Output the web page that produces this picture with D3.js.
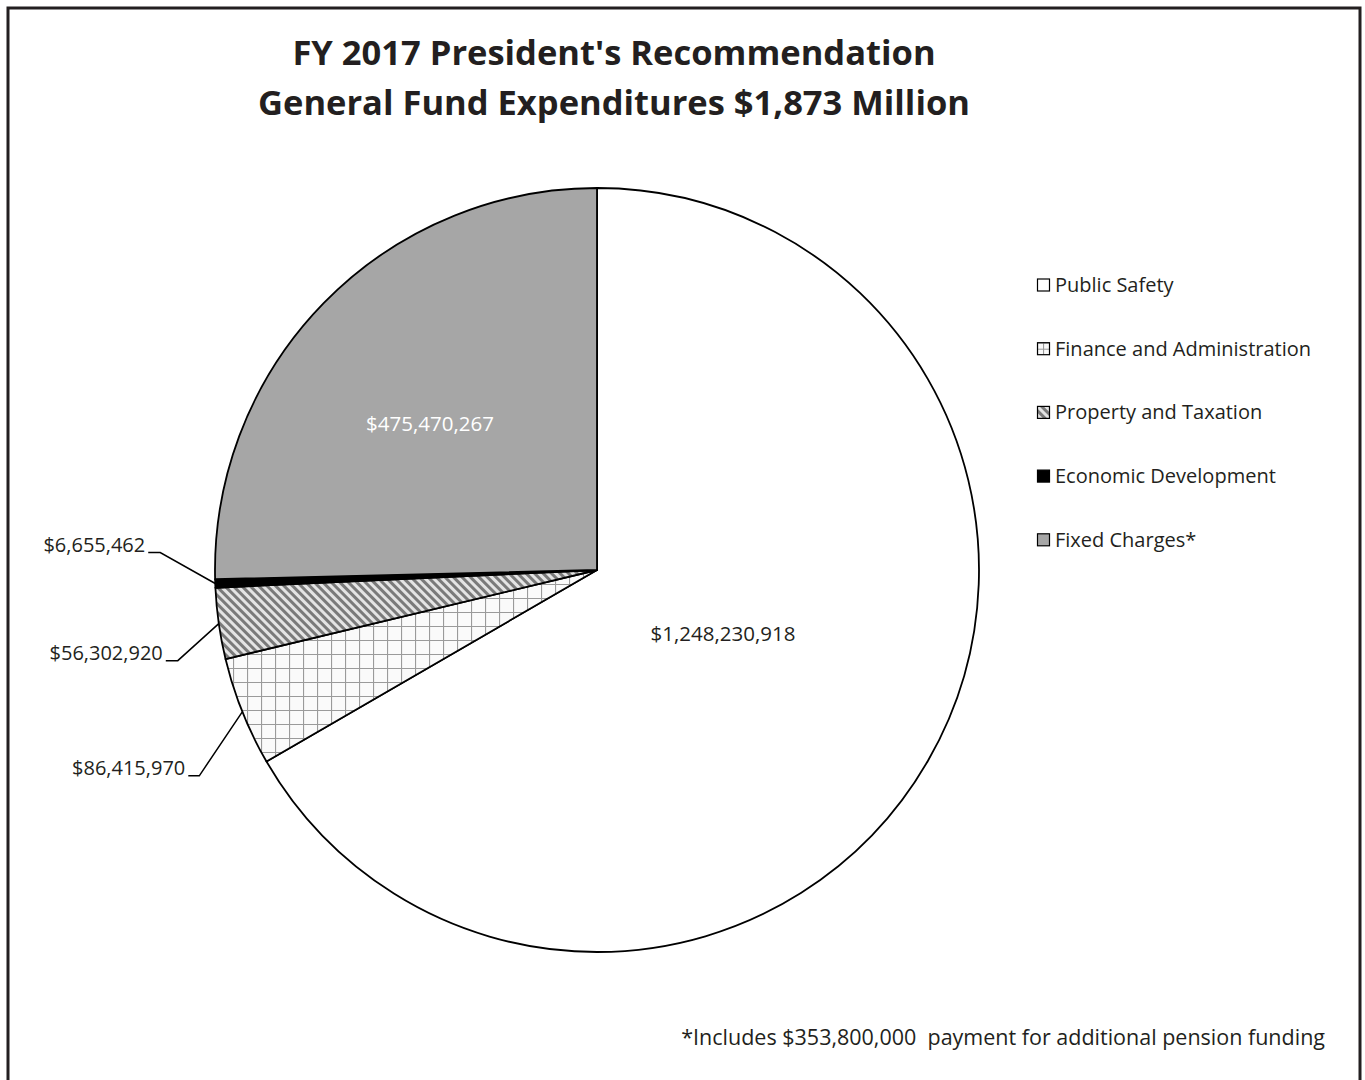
<!DOCTYPE html>
<html lang="en">
<head>
  <meta charset="UTF-8">
  <title>FY 2017 General Fund Expenditures</title>
  <style>
    body { margin: 0; padding: 0; background: #fff; }
    svg { display: block; }
    text { font-family: "Open Sans", Lato, sans-serif; fill: #231f20; }
  </style>
  <script src="https://cdn.jsdelivr.net/npm/d3@7"></script>
</head>
<body>
  <div id="chart"></div>
  <script>
    // data
    const categories = ["Public Safety", "Finance and Administration", "Property and Taxation", "Economic Development", "Fixed Charges*"];
    const values = [1248230918, 86415970, 56302920, 6655462, 475470267];
    const titleLines = ["FY 2017 President's Recommendation", "General Fund Expenditures $1,873 Million"];
    const footnote = "*Includes $353,800,000  payment for additional pension funding";

    const width = 1365;
    const height = 1080;
    const cx = 597, cy = 570, radius = 382;

    const svg = d3.select("#chart")
      .append("svg")
      .attr("width", width)
      .attr("height", height);

    // patterns for the slices
    const defs = svg.append("defs");

    function gridPattern(id, size) {
      const p = defs.append("pattern")
        .attr("id", id)
        .attr("patternUnits", "userSpaceOnUse")
        .attr("width", size).attr("height", size);
      p.append("rect").attr("width", size).attr("height", size).attr("fill", "#fafafa");
      p.append("path").attr("d", `M0,0.5H${size}M0.5,0V${size}`)
        .attr("stroke", "#9a9a9a").attr("stroke-width", 1.2);
    }
    gridPattern("grid", 14);
    gridPattern("gridSmall", 6);

    const stripes = defs.append("pattern")
      .attr("id", "stripes")
      .attr("patternUnits", "userSpaceOnUse")
      .attr("width", 6).attr("height", 6)
      .attr("patternTransform", "rotate(-45)");
    stripes.append("rect").attr("width", 6).attr("height", 6).attr("fill", "#e4e4e4");
    stripes.append("rect").attr("width", 3).attr("height", 6).attr("fill", "#7a7a7a");

    const fills = ["#ffffff", "url(#grid)", "url(#stripes)", "#000000", "#a6a6a6"];
    const legendFills = ["#ffffff", "url(#gridSmall)", "url(#stripes)", "#000000", "#a6a6a6"];

    // border
    svg.append("rect")
      .attr("x", 8).attr("y", 8)
      .attr("width", 1352).attr("height", 1100)
      .attr("fill", "none")
      .attr("stroke", "#231f20")
      .attr("stroke-width", 3);

    // title
    svg.append("text")
      .attr("text-anchor", "middle")
      .attr("font-size", 34.5)
      .attr("font-weight", "bold")
      .selectAll("tspan")
      .data(titleLines)
      .enter()
      .append("tspan")
      .attr("x", 614)
      .attr("y", (d, i) => 65 + i * 50)
      .text(d => d);

    const pie = d3.pie().sort(null).value(d => d)(values);
    const arc = d3.arc().innerRadius(0).outerRadius(radius);

    const g = svg.append("g").attr("transform", `translate(${cx},${cy})`);

    g.selectAll("path")
      .data(pie)
      .enter()
      .append("path")
      .attr("d", arc)
      .attr("fill", (d, i) => fills[i])
      .attr("stroke", "#000")
      .attr("stroke-width", 1.8)
      .attr("stroke-linejoin", "round");

    const fmt = d3.format("$,");

    // labels inside the two big slices
    const inside = [
      { i: 0, x: 126, y: 64, color: "#231f20" },
      { i: 4, x: -167, y: -146, color: "#ffffff" }
    ];
    g.selectAll("text.inside")
      .data(inside)
      .enter()
      .append("text")
      .attr("class", "inside")
      .attr("x", d => d.x)
      .attr("y", d => d.y)
      .attr("dy", "0.35em")
      .attr("text-anchor", "middle")
      .attr("font-size", 20.5)
      .style("fill", d => d.color)
      .text(d => fmt(values[d.i]));

    // outside labels with leader lines; elbow offset from the arc point
    const outside = [
      { i: 3, dx: -55, dy: -31, run: 12 },
      { i: 2, dx: -41, dy: 37, run: 12 },
      { i: 1, dx: -43, dy: 64, run: 11 }
    ];
    outside.forEach(o => {
      const a = (pie[o.i].startAngle + pie[o.i].endAngle) / 2;
      const px = radius * Math.sin(a);
      const py = -radius * Math.cos(a);
      const ex = px + o.dx, ey = py + o.dy;
      g.append("path")
        .attr("d", `M${px},${py}L${ex},${ey}H${ex - o.run}`)
        .attr("fill", "none")
        .attr("stroke", "#000")
        .attr("stroke-width", 1.5);
      g.append("text")
        .attr("x", ex - o.run - 3)
        .attr("y", ey - 8)
        .attr("dy", "0.35em")
        .attr("text-anchor", "end")
        .attr("font-size", 20)
        .text(fmt(values[o.i]));
    });

    // legend
    const legend = svg.append("g").attr("transform", "translate(1037,285)");
    const item = legend.selectAll("g")
      .data(categories)
      .enter()
      .append("g")
      .attr("transform", (d, i) => `translate(0,${i * 63.7})`);
    item.append("rect")
      .attr("x", 0.5).attr("y", -6)
      .attr("width", 12).attr("height", 12)
      .attr("fill", (d, i) => legendFills[i])
      .attr("stroke", "#000")
      .attr("stroke-width", 1.2);
    item.append("text")
      .attr("x", 18)
      .attr("dy", "0.35em")
      .attr("font-size", 20)
      .text(d => d);

    // footnote
    svg.append("text")
      .attr("x", 1325)
      .attr("y", 1045)
      .attr("text-anchor", "end")
      .attr("font-size", 21.5)
      .style("white-space", "pre")
      .text(footnote);
  </script>
</body>
</html>
